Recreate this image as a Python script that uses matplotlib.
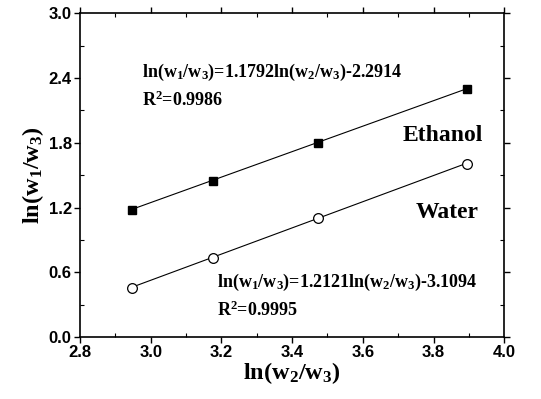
import matplotlib
import matplotlib.pyplot as plt
import numpy as np

matplotlib.use('Agg')

# data
x_eth = [2.947, 3.177, 3.474, 3.896]
y_eth = [1.18, 1.45, 1.80, 2.295]
x_wat = [2.947, 3.177, 3.474, 3.896]
y_wat = [0.455, 0.735, 1.10, 1.605]

coef_eth = [1.1792, -2.2914]
coef_wat = [1.2121, -3.1094]

x_ticks = [2.8, 3.0, 3.2, 3.4, 3.6, 3.8, 4.0]
y_ticks = [0.0, 0.6, 1.2, 1.8, 2.4, 3.0]

plt.rcParams['mathtext.fontset'] = 'custom'
plt.rcParams['mathtext.rm'] = 'Liberation Serif:bold'
plt.rcParams['mathtext.it'] = 'Liberation Serif:bold'
plt.rcParams['mathtext.bf'] = 'Liberation Serif:bold'

fig = plt.figure(figsize=(5.41, 3.99), dpi=100)
ax = fig.add_axes([0.148, 0.155, 0.784, 0.812])

serif = {'family': 'Liberation Serif', 'weight': 'bold'}


def fit_line(coef, xs):
    xx = np.array([xs[0], xs[-1]])
    return xx, coef[0] * xx + coef[1]


xx, yy = fit_line(coef_eth, x_eth)
ax.plot(xx, yy, color='black', lw=0.8, zorder=2)
xx, yy = fit_line(coef_wat, x_wat)
ax.plot(xx, yy, color='black', lw=0.8, zorder=2)

ax.plot(x_eth, y_eth, 's', color='black', ms=6, zorder=3)
ax.plot(x_wat, y_wat, 'o', mfc='white', mec='black', mew=0.9, ms=7, zorder=3)

ax.set_xlim(2.8, 4.0)
ax.set_ylim(0.0, 3.0)
ax.set_xticks(x_ticks)
ax.set_yticks(y_ticks)
ax.set_xticks(np.arange(2.9, 4.0, 0.2), minor=True)
ax.set_yticks(np.arange(0.3, 3.0, 0.6), minor=True)
ax.set_xticklabels(['%.1f' % v for v in x_ticks])
ax.set_yticklabels(['%.1f' % v for v in y_ticks])

for lab in ax.get_xticklabels() + ax.get_yticklabels():
    lab.set_fontfamily('Liberation Sans')
    lab.set_fontweight('bold')
    lab.set_fontsize(12)

ax.tick_params(which='major', direction='out', length=4, width=1, pad=2)
ax.tick_params(which='minor', direction='in', length=3, width=0.8)
ax.tick_params(which='both', top=True, right=True)
for s in ax.spines.values():
    s.set_linewidth(1.2)

ax.set_xlabel(r'ln(w$_2$/w$_3$)', fontdict=serif, fontsize=17.5, labelpad=0)
ax.set_ylabel(r'ln(w$_1$/w$_3$)', fontdict=serif, fontsize=17.5, labelpad=2)

ax.text(2.975, 2.45, r'ln(w$_1$/w$_3$)=1.1792ln(w$_2$/w$_3$)-2.2914',
        fontdict=serif, fontsize=13, va='center')
ax.text(2.975, 2.19, r'R$^2$=0.9986', fontdict=serif, fontsize=13, va='center')
ax.text(3.827, 1.87, 'Ethanol', fontdict=serif, fontsize=17, va='center', ha='center')
ax.text(3.839, 1.157, 'Water', fontdict=serif, fontsize=17, va='center', ha='center')
ax.text(3.188, 0.51, r'ln(w$_1$/w$_3$)=1.2121ln(w$_2$/w$_3$)-3.1094',
        fontdict=serif, fontsize=13, va='center')
ax.text(3.188, 0.25, r'R$^2$=0.9995', fontdict=serif, fontsize=13, va='center')

fig.savefig('out.png', dpi=100)
